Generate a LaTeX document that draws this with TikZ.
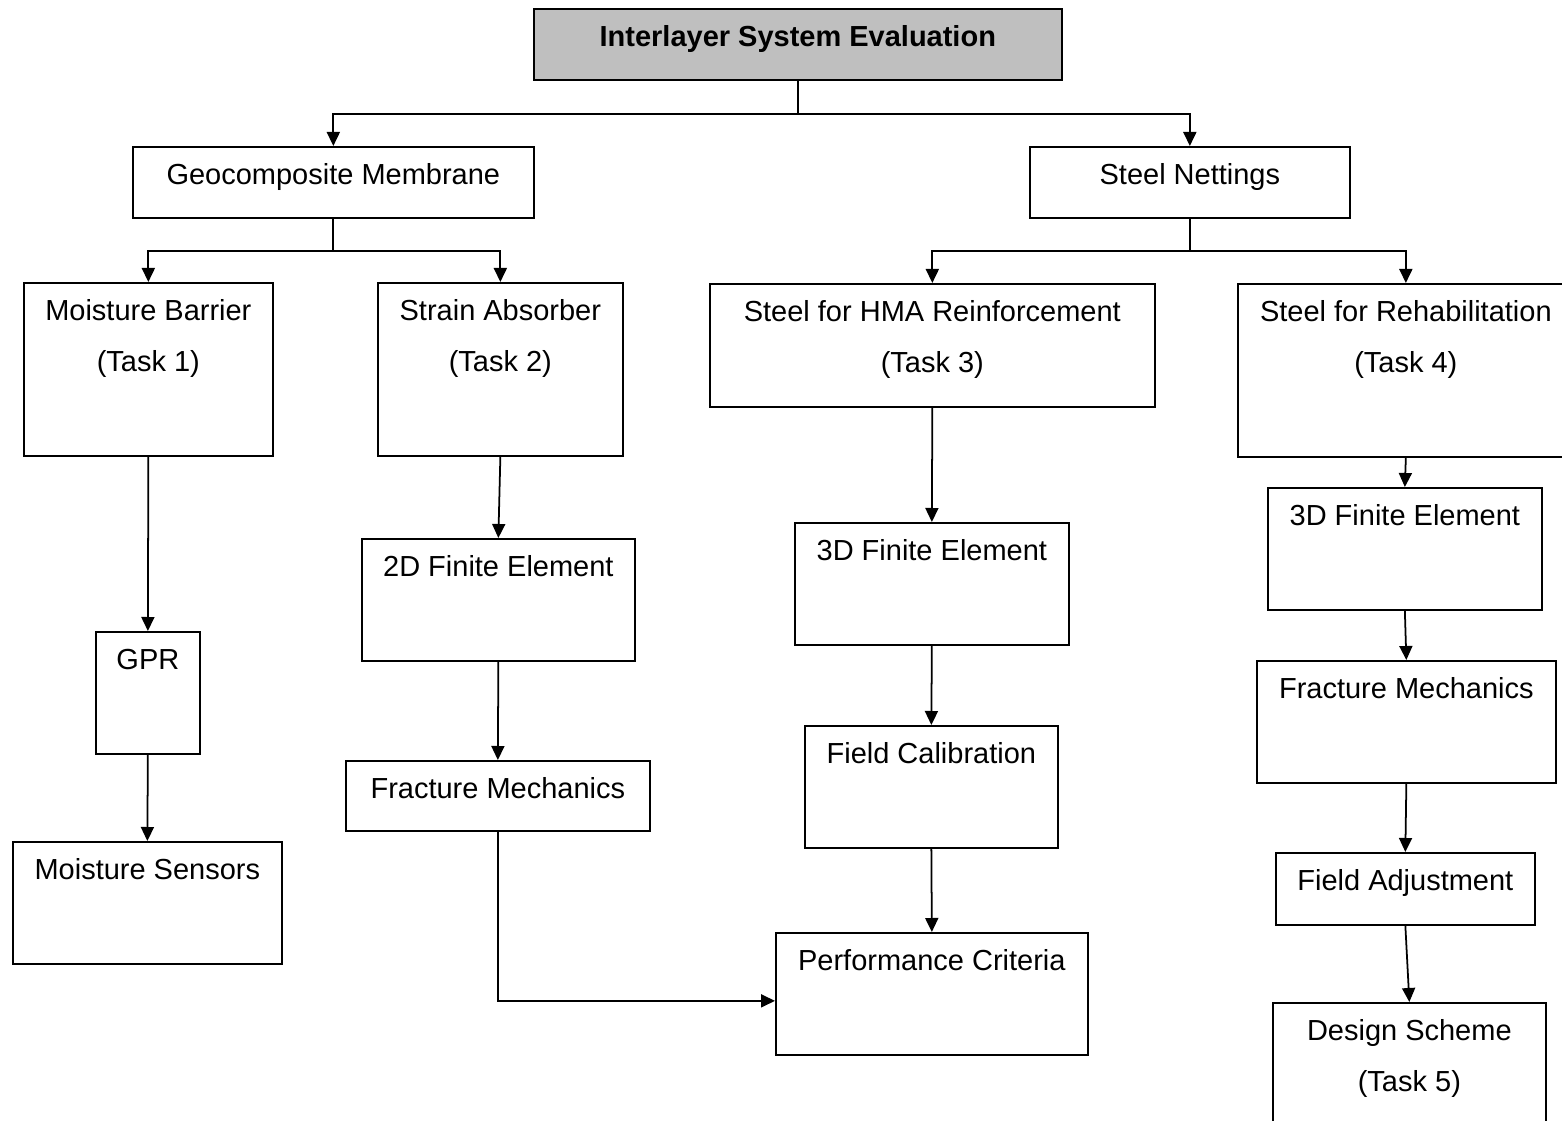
\documentclass[tikz,border=0pt]{standalone}
\usepackage{fontspec}
\setmainfont{Liberation Sans}
\usetikzlibrary{positioning,arrows.meta}

\begin{document}
\begin{tikzpicture}[x=0.02cm, y=-0.02cm,
  box/.style 2 args={draw, line width=1pt, inner sep=0pt, align=center,
    anchor=north west, minimum width=#1, text height=0.76cm, text depth=#2,
    font=\fontsize{16.5pt}{29pt}\selectfont},
  two/.style={text height=1.78cm},
  arr/.style={line width=1pt, -{Triangle[length=0.28cm,width=0.26cm]}}]
\useasboundingbox (0,0) rectangle (1562,1121);

% top levels
\node[box={10.56cm}{0.66cm}, fill=black!25,
  font=\fontsize{16.5pt}{29pt}\selectfont\bfseries] (ise) at (533,8) {Interlayer System Evaluation};
\node[box={8.02cm}{0.66cm}] (geo) at (132,146) {Geocomposite Membrane};
\node[box={6.40cm}{0.66cm}] (steel) at (1029,146) {Steel Nettings};

\node[box={4.98cm}{1.68cm}, two] (mb) at (23,282) {Moisture Barrier\\(Task 1)};
\node[box={4.90cm}{1.68cm}, two] (sa) at (377,282) {Strain Absorber\\(Task 2)};
\node[box={8.90cm}{0.68cm}, two] (hma) at (709,283) {Steel for HMA Reinforcement\\(Task 3)};
\node[box={6.72cm}{1.68cm}, two] (reh) at (1237,283) {Steel for Rehabilitation\\(Task 4)};

% task 1
\node[box={2.08cm}{1.68cm}] (gpr) at (95,631) {GPR};
\node[box={5.38cm}{1.68cm}] (ms) at (12,841) {Moisture Sensors};

% task 2
\node[box={5.46cm}{1.68cm}] (fe2) at (361,538) {2D Finite Element};
\node[box={6.08cm}{0.64cm}] (fm) at (345,760) {Fracture Mechanics};

% task 3
\node[box={5.48cm}{1.68cm}] (fe3) at (794,522) {3D Finite Element};
\node[box={5.06cm}{1.68cm}] (fc) at (804,725) {Field Calibration};
\node[box={6.24cm}{1.68cm}] (pc) at (775,932) {Performance Criteria};

% task 4
\node[box={5.48cm}{1.68cm}] (fe4) at (1267,487) {3D Finite Element};
\node[box={5.98cm}{1.68cm}] (fm4) at (1256,660) {Fracture Mechanics};
\node[box={5.18cm}{0.68cm}] (fa) at (1275,852) {Field Adjustment};
\node[box={5.46cm}{1.02cm}, two] (ds) at (1272,1002) {Design Scheme\\(Task 5)};

% connectors
\draw[line width=1pt] (ise.south) -- ++(0,33) coordinate (j1);
\draw[arr] (j1) -| (geo.north);
\draw[arr] (j1) -| (steel.north);
\draw[line width=1pt] (geo.south) -- ++(0,32) coordinate (j2);
\draw[arr] (j2) -| (mb.north);
\draw[arr] (j2) -| (sa.north);
\draw[line width=1pt] (steel.south) -- ++(0,32) coordinate (j3);
\draw[arr] (j3) -| (hma.north);
\draw[arr] (j3) -| (reh.north);

\draw[arr] (mb.south) -- (gpr.north);
\draw[arr] (gpr.south) -- (ms.north);
\draw[arr] (sa.south) -- (fe2.north);
\draw[arr] (fe2.south) -- (fm.north);
\draw[arr] (fm.south) |- ([yshift=-0.14cm]pc.west);
\draw[arr] (hma.south) -- (fe3.north);
\draw[arr] (fe3.south) -- (fc.north);
\draw[arr] (fc.south) -- (pc.north);
\draw[arr] (reh.south) -- (fe4.north);
\draw[arr] (fe4.south) -- (fm4.north);
\draw[arr] (fm4.south) -- (fa.north);
\draw[arr] (fa.south) -- (ds.north);
\end{tikzpicture}
\end{document}
